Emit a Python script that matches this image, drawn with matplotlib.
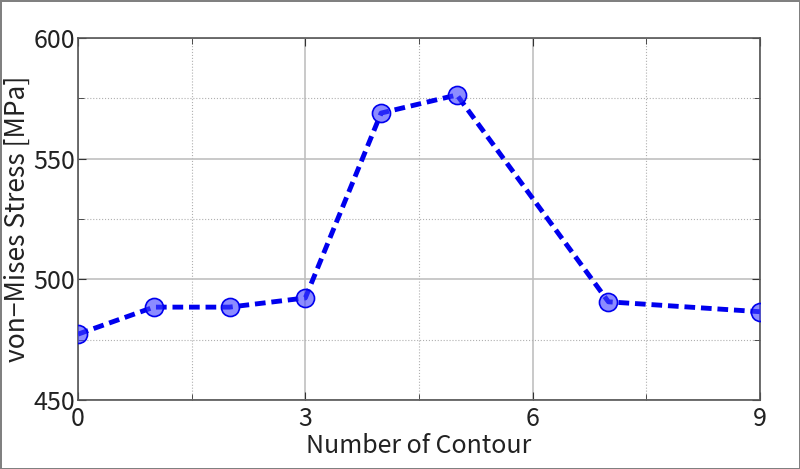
import matplotlib
matplotlib.use("Agg")
import matplotlib.pyplot as plt
from matplotlib.ticker import MultipleLocator

plt.rcParams['font.family'] = ['Noto Sans CJK KR', 'DejaVu Sans']

contours = [0, 1, 2, 3, 4, 5, 7, 9]
stress = [477.3, 488.5, 488.5, 492.3, 568.9, 576.4, 490.7, 486.6]
x_ticks = [0, 3, 6, 9]
y_ticks = [450, 500, 550, 600]

fig = plt.figure(figsize=(8, 4.69), dpi=100)
fig.patch.set_edgecolor('#808080')
fig.patch.set_linewidth(2)
ax = fig.add_axes([0.0975, 0.147, 0.8525, 0.772])

ax.plot(contours, stress, linestyle='--', color='#0000EE', linewidth=3.5,
        dashes=(2.2, 1.2), marker='o', markersize=13,
        markerfacecolor=(0.25, 0.25, 1.0, 0.6), markeredgecolor='#0000EE',
        markeredgewidth=1.2, zorder=3)

ax.set_xlim(0, 9)
ax.set_ylim(450, 600)
ax.set_xticks(x_ticks)
ax.set_yticks(y_ticks)
ax.xaxis.set_minor_locator(MultipleLocator(1.5))
ax.yaxis.set_minor_locator(MultipleLocator(25))

ax.grid(which='major', color='#c0c0c0', linestyle='-', linewidth=1.2)
ax.grid(which='minor', color='#b0b0b0', linestyle=':', linewidth=0.8)
ax.set_axisbelow(True)

ax.tick_params(which='both', direction='in', top=True, right=True, colors='#333333')
ax.tick_params(which='major', length=6, labelsize=18, labelcolor='#222222', pad=2)
ax.tick_params(axis='x', which='major', pad=4)
ax.tick_params(which='minor', length=4)
for s in ax.spines.values():
    s.set_color('#555555')
    s.set_linewidth(1.2)

ax.set_xlabel('Number of Contour', fontsize=18, color='#222222', labelpad=1)
ax.set_ylabel('von\u2212Mises Stress [MPa]', fontsize=19, color='#222222', labelpad=2)

fig.savefig('out.png', dpi=100, edgecolor=fig.get_edgecolor())
